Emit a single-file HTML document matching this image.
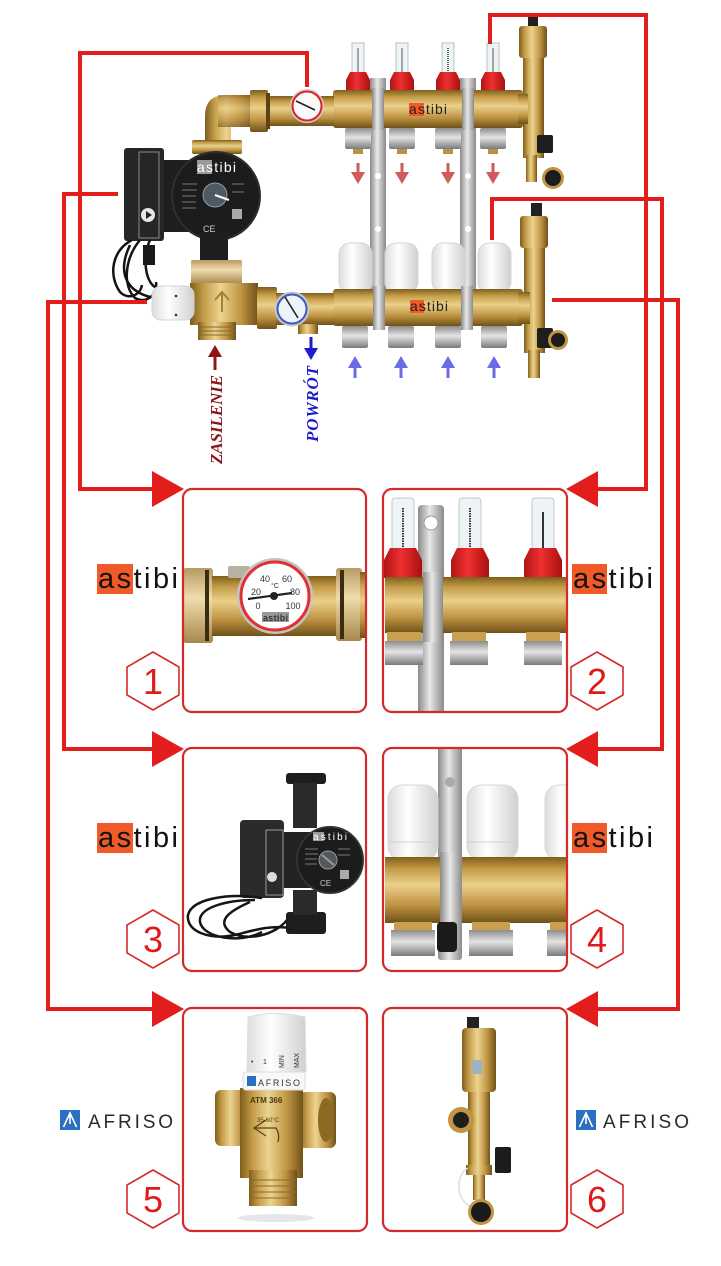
<!DOCTYPE html>
<html><head><meta charset="utf-8">
<style>
html,body{margin:0;padding:0;background:#fff;}
svg{display:block;}
</style></head><body>
<svg width="721" height="1266" viewBox="0 0 721 1266" xmlns="http://www.w3.org/2000/svg" font-family="'Liberation Sans', sans-serif">
<defs>
<linearGradient id="bV" x1="0" y1="0" x2="0" y2="1">
 <stop offset="0" stop-color="#7e5e1c"/><stop offset="0.18" stop-color="#c49c48"/>
 <stop offset="0.42" stop-color="#ead08a"/><stop offset="0.72" stop-color="#c09443"/>
 <stop offset="1" stop-color="#6f5118"/></linearGradient>
<linearGradient id="bH" x1="0" y1="0" x2="1" y2="0">
 <stop offset="0" stop-color="#7e5e1c"/><stop offset="0.2" stop-color="#c49c48"/>
 <stop offset="0.45" stop-color="#ecd490"/><stop offset="0.75" stop-color="#c09443"/>
 <stop offset="1" stop-color="#6f5118"/></linearGradient>
<linearGradient id="lb" x1="0" y1="0" x2="0" y2="1">
 <stop offset="0" stop-color="#b89a62"/><stop offset="0.4" stop-color="#f0dcae"/>
 <stop offset="1" stop-color="#a8874c"/></linearGradient>
<linearGradient id="sV" x1="0" y1="0" x2="0" y2="1">
 <stop offset="0" stop-color="#8c8c8c"/><stop offset="0.45" stop-color="#e4e4e4"/>
 <stop offset="1" stop-color="#7a7a7a"/></linearGradient>
<linearGradient id="sH" x1="0" y1="0" x2="1" y2="0">
 <stop offset="0" stop-color="#8a8a8a"/><stop offset="0.45" stop-color="#e8e8e8"/>
 <stop offset="1" stop-color="#8a8a8a"/></linearGradient>
<linearGradient id="wc" x1="0" y1="0" x2="1" y2="0">
 <stop offset="0" stop-color="#dcdcdc"/><stop offset="0.4" stop-color="#ffffff"/>
 <stop offset="1" stop-color="#d0d0d0"/></linearGradient>
<linearGradient id="rc" x1="0" y1="0" x2="1" y2="0">
 <stop offset="0" stop-color="#b01515"/><stop offset="0.45" stop-color="#f03030"/>
 <stop offset="1" stop-color="#a81010"/></linearGradient>
<clipPath id="c1"><rect x="183" y="489" width="183" height="223" rx="9"/></clipPath>
<clipPath id="c2"><rect x="383" y="489" width="184" height="223" rx="9"/></clipPath>
<clipPath id="c4"><rect x="383" y="748" width="184" height="223" rx="9"/></clipPath>
</defs>
<rect width="721" height="1266" fill="#fff"/>

<!-- ================= TOP ASSEMBLY ================= -->
<!-- brackets -->
<rect x="370" y="78" width="16" height="225" fill="url(#sH)"/>
<rect x="460" y="78" width="16" height="225" fill="url(#sH)"/>
<circle cx="378" cy="176" r="3" fill="#fff"/><circle cx="378" cy="229" r="3" fill="#fff"/>
<circle cx="468" cy="176" r="3" fill="#fff"/><circle cx="468" cy="229" r="3" fill="#fff"/>

<!-- flowmeters -->
<g>
 <rect x="352" y="43" width="12" height="30" fill="#eef3f6" stroke="#b8c0c6"/>
 <rect x="396" y="43" width="12" height="30" fill="#eef3f6" stroke="#b8c0c6"/>
 <rect x="442" y="43" width="12" height="30" fill="#eef3f6" stroke="#b8c0c6"/>
 <rect x="487" y="43" width="12" height="30" fill="#eef3f6" stroke="#b8c0c6"/>
 <line x1="358" y1="48" x2="358" y2="72" stroke="#555" stroke-width="1"/>
 <line x1="402" y1="48" x2="402" y2="72" stroke="#555" stroke-width="1"/>
 <line x1="448" y1="48" x2="448" y2="72" stroke="#333" stroke-width="1.5" stroke-dasharray="1 1"/>
 <line x1="493" y1="48" x2="493" y2="72" stroke="#555" stroke-width="1"/>
 <path d="M346,92 L346,80 L350,72 L366,72 L370,80 L370,92 Z" fill="url(#rc)"/>
 <path d="M390,92 L390,80 L394,72 L410,72 L414,80 L414,92 Z" fill="url(#rc)"/>
 <path d="M436,92 L436,80 L440,72 L456,72 L460,80 L460,92 Z" fill="url(#rc)"/>
 <path d="M481,92 L481,80 L485,72 L501,72 L505,80 L505,92 Z" fill="url(#rc)"/>
</g>

<!-- white actuator caps -->
<rect x="339" y="243" width="33" height="50" rx="11" fill="url(#wc)" stroke="#d6d6d6"/>
<rect x="385" y="243" width="33" height="50" rx="11" fill="url(#wc)" stroke="#d6d6d6"/>
<rect x="432" y="243" width="33" height="50" rx="11" fill="url(#wc)" stroke="#d6d6d6"/>
<rect x="478" y="243" width="33" height="50" rx="11" fill="url(#wc)" stroke="#d6d6d6"/>

<!-- top manifold bar -->
<rect x="333" y="90" width="190" height="38" rx="3" fill="url(#bV)"/>
<rect x="372" y="88" width="12" height="42" fill="url(#sH)"/>
<rect x="462" y="88" width="12" height="42" fill="url(#sH)"/>
<rect x="409" y="103" width="15" height="13" fill="#f05a28"/>
<text x="409" y="114" font-size="14" textLength="38" fill="#222">astibi</text>
<!-- top nuts -->
<g fill="url(#sV)">
 <rect x="345" y="128" width="26" height="21" rx="2"/><rect x="389" y="128" width="26" height="21" rx="2"/>
 <rect x="435" y="128" width="26" height="21" rx="2"/><rect x="480" y="128" width="26" height="21" rx="2"/>
</g>
<g fill="#b99140">
 <rect x="353" y="149" width="10" height="5"/><rect x="397" y="149" width="10" height="5"/>
 <rect x="443" y="149" width="10" height="5"/><rect x="488" y="149" width="10" height="5"/>
</g>
<!-- red down arrows -->
<g fill="#cf5b5b">
 <rect x="356.5" y="163" width="3" height="10"/><path d="M351,172 L365,172 L358,184 Z"/>
 <rect x="400.5" y="163" width="3" height="10"/><path d="M395,172 L409,172 L402,184 Z"/>
 <rect x="446.5" y="163" width="3" height="10"/><path d="M441,172 L455,172 L448,184 Z"/>
 <rect x="491.5" y="163" width="3" height="10"/><path d="M486,172 L500,172 L493,184 Z"/>
</g>

<!-- bottom manifold bar -->
<rect x="333" y="289" width="190" height="37" rx="3" fill="url(#bV)"/>
<rect x="373" y="286" width="12" height="44" fill="url(#sH)"/>
<rect x="461" y="286" width="12" height="44" fill="url(#sH)"/>
<rect x="410" y="300" width="14" height="13" fill="#f05a28"/>
<text x="410" y="311" font-size="14" textLength="38" fill="#222">astibi</text>
<g fill="url(#sV)">
 <rect x="342" y="326" width="26" height="22" rx="2"/><rect x="388" y="326" width="26" height="22" rx="2"/>
 <rect x="435" y="326" width="26" height="22" rx="2"/><rect x="481" y="326" width="26" height="22" rx="2"/>
</g>
<!-- blue up arrows -->
<g fill="#6b6be6">
 <rect x="353.5" y="366" width="3" height="12"/><path d="M348,368 L362,368 L355,356 Z"/>
 <rect x="399.5" y="366" width="3" height="12"/><path d="M394,368 L408,368 L401,356 Z"/>
 <rect x="446.5" y="366" width="3" height="12"/><path d="M441,368 L455,368 L448,356 Z"/>
 <rect x="492.5" y="366" width="3" height="12"/><path d="M487,368 L501,368 L494,356 Z"/>
</g>

<!-- right vent top -->
<rect x="528" y="13" width="10" height="14" fill="#222"/>
<rect x="519" y="26" width="28" height="32" rx="3" fill="url(#bH)"/>
<rect x="523" y="58" width="21" height="100" fill="url(#bH)"/>
<rect x="518" y="94" width="10" height="30" fill="url(#bV)"/>
<rect x="537" y="135" width="16" height="18" rx="2" fill="#1e1e1e"/>
<rect x="526" y="155" width="11" height="27" fill="url(#bH)"/>
<circle cx="553" cy="178" r="11" fill="#c09443"/><circle cx="553" cy="178" r="8" fill="#1c1c1c"/>
<!-- right vent bottom -->
<rect x="531" y="203" width="11" height="14" fill="#222"/>
<rect x="520" y="216" width="28" height="32" rx="3" fill="url(#bH)"/>
<rect x="524" y="248" width="21" height="105" fill="url(#bH)"/>
<rect x="518" y="292" width="12" height="32" fill="url(#bV)"/>
<rect x="537" y="328" width="16" height="20" rx="2" fill="#1e1e1e"/>
<circle cx="558" cy="340" r="10" fill="#c09443"/><circle cx="558" cy="340" r="7" fill="#1c1c1c"/>
<rect x="528" y="350" width="12" height="28" fill="url(#bH)"/>

<!-- elbow, union, thermometer top -->
<path d="M205,142 L205,116 Q205,95 226,95 L252,95 L252,127 L231,127 L231,142 Z" fill="url(#bH)"/>
<rect x="218" y="95" width="34" height="32" fill="url(#bV)" opacity="0.6"/>
<rect x="192" y="140" width="50" height="14" rx="2" fill="url(#bV)"/>
<rect x="250" y="90" width="18" height="42" rx="2" fill="url(#bV)"/>
<rect x="266" y="93" width="4" height="36" fill="#5a4416"/>
<rect x="270" y="96" width="64" height="30" fill="url(#bV)"/>
<circle cx="307" cy="106" r="17" fill="#cfcfcf"/>
<circle cx="307" cy="106" r="14.5" fill="#fafafa" stroke="#d22" stroke-width="2"/>
<line x1="296" y1="101" x2="315" y2="110" stroke="#222" stroke-width="1.6"/>

<!-- pump -->
<rect x="160" y="160" width="50" height="72" fill="#1e1e1e"/>
<circle cx="216" cy="196" r="44" fill="#1c1c1c" stroke="#2e2e2e" stroke-width="2"/>
<rect x="124" y="148" width="40" height="93" rx="3" fill="#262626"/>
<rect x="139" y="152" width="20" height="86" fill="none" stroke="#8a8a8a" stroke-width="1"/>
<circle cx="148" cy="215" r="7" fill="#e6e6e6"/><path d="M146,211 L152,215 L146,219 Z" fill="#222"/>
<rect x="197" y="160" width="15" height="14" fill="#9a9a9a"/>
<text x="197" y="172" font-size="14" textLength="39" fill="#fff">astibi</text>
<g stroke="#777" stroke-width="1"><line x1="182" y1="184" x2="197" y2="184"/><line x1="182" y1="190" x2="197" y2="190"/><line x1="182" y1="196" x2="196" y2="196"/><line x1="182" y1="202" x2="196" y2="202"/><line x1="182" y1="208" x2="196" y2="208"/><line x1="232" y1="184" x2="244" y2="184"/><line x1="232" y1="192" x2="244" y2="192"/></g>
<circle cx="215" cy="195" r="12" fill="#4d5a64" stroke="#999" stroke-width="1"/>
<line x1="215" y1="195" x2="229" y2="200" stroke="#fff" stroke-width="2"/>
<rect x="232" y="209" width="10" height="10" fill="#aaa"/>
<text x="203" y="232" font-size="9" fill="#ccc">CE</text>
<rect x="200" y="232" width="28" height="30" fill="#1e1e1e"/>
<g fill="none" stroke="#141414" stroke-width="2.5">
 <path d="M132,240 C112,250 108,275 120,292 C128,300 140,296 142,285"/>
 <path d="M140,240 C125,258 122,285 135,298 C145,304 158,296 156,282"/>
 <path d="M150,240 C140,262 148,290 160,288"/>
 <path d="M130,245 C118,270 124,290 150,297"/>
</g>
<rect x="143" y="245" width="12" height="20" fill="#1a1a1a"/>

<!-- mixing valve -->
<rect x="191" y="260" width="51" height="24" rx="2" fill="url(#lb)"/>
<path d="M190,283 L258,283 L258,325 L236,325 L236,338 L198,338 L198,325 L190,325 Z" fill="url(#bH)"/>
<rect x="198" y="322" width="38" height="18" fill="url(#bH)"/>
<g stroke="#8a6a28" stroke-width="1"><line x1="198" y1="327" x2="236" y2="327"/><line x1="198" y1="331" x2="236" y2="331"/><line x1="198" y1="335" x2="236" y2="335"/></g>
<rect x="152" y="286" width="42" height="34" rx="9" fill="url(#wc)" stroke="#d4d4d4"/>
<circle cx="176" cy="296" r="1.3" fill="#333"/><circle cx="176" cy="315" r="1.3" fill="#333"/>
<path d="M215,300 L222,292 L229,300 M222,292 L222,312" fill="none" stroke="#a2822f" stroke-width="2"/>
<!-- connection to bottom manifold -->
<rect x="257" y="287" width="20" height="42" rx="2" fill="url(#bV)"/>
<rect x="276" y="293" width="58" height="32" fill="url(#bV)"/>
<rect x="298" y="324" width="20" height="10" fill="url(#bH)"/>
<circle cx="292" cy="309" r="17.5" fill="#c9c9c9"/>
<circle cx="292" cy="309" r="14.5" fill="#eef2fa" stroke="#3b5bc0" stroke-width="2"/>
<line x1="285" y1="297" x2="298" y2="318" stroke="#222" stroke-width="1.6"/>

<!-- ZASILENIE / POWRÓT -->
<g fill="#8c1515"><rect x="213.5" y="355" width="3" height="15"/><path d="M208,357 L222,357 L215,345 Z"/></g>
<text transform="translate(222,464) rotate(-90)" font-family="'Liberation Serif', serif" font-weight="bold" font-style="italic" font-size="17" textLength="89" fill="#8c1515">ZASILENIE</text>
<g fill="#1c1ccc"><rect x="309.5" y="337" width="3" height="14"/><path d="M304,348 L318,348 L311,360 Z"/></g>
<text transform="translate(318,442) rotate(-90)" font-family="'Liberation Serif', serif" font-weight="bold" font-style="italic" font-size="17" textLength="76" fill="#1c1ccc">POWRÓT</text>

<!-- ================= RED CONNECTORS ================= -->
<g fill="none" stroke="#e31c1c" stroke-width="4" stroke-linejoin="miter">
 <path d="M307,87 L307,53 L80,53 L80,489 L156,489"/>
 <path d="M118,194 L64,194 L64,749 L156,749"/>
 <path d="M147,302 L48,302 L48,1009 L156,1009"/>
 <path d="M490,44 L490,15 L646,15 L646,489 L594,489"/>
 <path d="M492,240 L492,199 L662,199 L662,749 L594,749"/>
 <path d="M552,300 L678,300 L678,1009 L594,1009"/>
</g>
<g fill="#e31c1c">
 <path d="M152,471 L184,489 L152,507 Z"/>
 <path d="M152,731 L184,749 L152,767 Z"/>
 <path d="M152,991 L184,1009 L152,1027 Z"/>
 <path d="M598,471 L566,489 L598,507 Z"/>
 <path d="M598,731 L566,749 L598,767 Z"/>
 <path d="M598,991 L566,1009 L598,1027 Z"/>
</g>

<!-- ================= BOX 1 ================= -->
<g clip-path="url(#c1)">
 <rect x="183" y="568" width="30" height="75" rx="3" fill="url(#lb)"/>
 <rect x="205" y="570" width="4" height="71" fill="#3a2c10"/>
 <rect x="212" y="576" width="126" height="60" fill="url(#bV)"/>
 <rect x="228" y="566" width="22" height="12" rx="2" fill="#b8b0a0"/>
 <rect x="336" y="568" width="26" height="73" rx="3" fill="url(#lb)"/>
 <rect x="340" y="570" width="4" height="69" fill="#3a2c10"/>
 <rect x="360" y="572" width="8" height="66" fill="url(#bV)"/>
</g>
<circle cx="275" cy="596" r="38" fill="#c4c4c4"/>
<circle cx="275" cy="596" r="34" fill="#fff" stroke="#e03030" stroke-width="3"/>
<g font-size="9" fill="#333" text-anchor="middle">
 <text x="265" y="582">40</text><text x="287" y="582">60</text>
 <text x="256" y="595">20</text><text x="295" y="595">80</text>
 <text x="258" y="609">0</text><text x="293" y="609">100</text>
 <text x="275" y="588" font-size="7">°C</text>
</g>
<line x1="248" y1="599" x2="292" y2="593" stroke="#222" stroke-width="2.2"/>
<circle cx="274" cy="596" r="4" fill="#222"/>
<rect x="262" y="612" width="27" height="10" fill="#999"/>
<text x="263" y="621" font-size="9" font-weight="bold" textLength="25" fill="#333">astibi</text>
<rect x="183" y="489" width="183" height="223" rx="9" fill="none" stroke="#d42a2a" stroke-width="2.2"/>

<!-- ================= BOX 2 ================= -->
<g clip-path="url(#c2)">
 <rect x="418" y="505" width="26" height="210" rx="4" fill="url(#sH)"/>
 <circle cx="431" cy="523" r="7" fill="#fff" stroke="#999"/>
 <rect x="392" y="498" width="22" height="52" rx="3" fill="#eef3f6" stroke="#c0c8cc"/>
 <rect x="459" y="498" width="22" height="52" rx="3" fill="#eef3f6" stroke="#c0c8cc"/>
 <rect x="532" y="498" width="22" height="52" rx="3" fill="#eef3f6" stroke="#c0c8cc"/>
 <line x1="403" y1="508" x2="403" y2="548" stroke="#333" stroke-width="2" stroke-dasharray="1.5 1"/>
 <line x1="470" y1="508" x2="470" y2="548" stroke="#333" stroke-width="2" stroke-dasharray="1.5 1"/>
 <line x1="543" y1="512" x2="543" y2="548" stroke="#333" stroke-width="2"/>
 <path d="M384,578 L384,560 L390,548 L416,548 L422,560 L422,578 Z" fill="url(#rc)"/>
 <path d="M451,578 L451,560 L457,548 L483,548 L489,560 L489,578 Z" fill="url(#rc)"/>
 <path d="M524,578 L524,560 L530,548 L556,548 L562,560 L562,578 Z" fill="url(#rc)"/>
 <rect x="385" y="577" width="183" height="56" fill="url(#bV)"/>
 <rect x="423" y="572" width="20" height="70" fill="url(#sH)"/>
 <rect x="387" y="632" width="34" height="10" fill="#c8a050"/>
 <rect x="385" y="641" width="38" height="24" fill="url(#sV)"/>
 <rect x="452" y="632" width="34" height="10" fill="#c8a050"/>
 <rect x="450" y="641" width="38" height="24" fill="url(#sV)"/>
 <rect x="526" y="632" width="34" height="10" fill="#c8a050"/>
 <rect x="524" y="641" width="38" height="24" fill="url(#sV)"/>
</g>
<rect x="383" y="489" width="184" height="223" rx="9" fill="none" stroke="#d42a2a" stroke-width="2.2"/>

<!-- ================= BOX 3 (pump) ================= -->
<rect x="286" y="773" width="40" height="11" rx="3" fill="#1e1e1e"/>
<rect x="293" y="783" width="24" height="45" fill="#2a2a2a"/>
<rect x="286" y="912" width="40" height="22" rx="3" fill="#1e1e1e"/>
<rect x="293" y="890" width="24" height="25" fill="#2a2a2a"/>
<rect x="270" y="832" width="40" height="56" fill="#222"/>
<circle cx="330" cy="860" r="33" fill="#1c1c1c" stroke="#333" stroke-width="2"/>
<rect x="240" y="820" width="44" height="78" rx="4" fill="#2b2b2b"/>
<rect x="266" y="830" width="17" height="65" fill="none" stroke="#999" stroke-width="1"/>
<circle cx="272" cy="877" r="5" fill="#ddd"/>
<rect x="313" y="832" width="11" height="9" fill="#999"/>
<text x="313" y="840" font-size="10" textLength="34" fill="#fff">astibi</text>
<circle cx="328" cy="860" r="9" fill="#50585e" stroke="#999"/>
<line x1="322" y1="855" x2="334" y2="865" stroke="#999" stroke-width="2"/>
<g stroke="#777" stroke-width="1"><line x1="305" y1="849" x2="318" y2="849"/><line x1="305" y1="854" x2="318" y2="854"/><line x1="305" y1="859" x2="317" y2="859"/><line x1="305" y1="864" x2="317" y2="864"/><line x1="338" y1="849" x2="350" y2="849"/><line x1="338" y1="855" x2="350" y2="855"/></g>
<rect x="340" y="870" width="9" height="9" fill="#aaa"/>
<text x="320" y="886" font-size="8" fill="#ccc">CE</text>
<g fill="none" stroke="#151515" stroke-width="2.5">
 <path d="M262,898 C230,893 192,898 188,915 C186,932 210,940 235,935 C255,930 270,925 290,928"/>
 <path d="M255,900 C225,900 198,908 200,922 C203,938 240,944 262,932"/>
 <path d="M250,902 C232,910 215,920 230,932 C248,942 275,935 287,920"/>
</g>
<rect x="183" y="748" width="183" height="223" rx="9" fill="none" stroke="#d42a2a" stroke-width="2.2"/>

<!-- ================= BOX 4 ================= -->
<g clip-path="url(#c4)">
 <rect x="438" y="745" width="24" height="215" rx="3" fill="url(#sH)"/>
 <circle cx="450" cy="782" r="5" fill="#aaa"/>
 <rect x="388" y="785" width="50" height="75" rx="14" fill="url(#wc)" stroke="#d8d8d8"/>
 <rect x="467" y="785" width="51" height="75" rx="14" fill="url(#wc)" stroke="#d8d8d8"/>
 <rect x="545" y="785" width="40" height="75" rx="14" fill="url(#wc)" stroke="#d8d8d8"/>
 <line x1="388" y1="842" x2="438" y2="842" stroke="#cfcfcf"/>
 <line x1="467" y1="842" x2="518" y2="842" stroke="#cfcfcf"/>
 <rect x="385" y="857" width="183" height="66" fill="url(#bV)"/>
 <rect x="440" y="852" width="22" height="75" fill="url(#sH)"/>
 <rect x="394" y="922" width="38" height="9" fill="#c8a050"/>
 <rect x="391" y="930" width="44" height="26" fill="url(#sV)"/>
 <rect x="472" y="922" width="38" height="9" fill="#c8a050"/>
 <rect x="469" y="930" width="44" height="26" fill="url(#sV)"/>
 <rect x="550" y="922" width="38" height="9" fill="#c8a050"/>
 <rect x="547" y="930" width="44" height="26" fill="url(#sV)"/>
 <rect x="437" y="922" width="20" height="30" rx="4" fill="#1a1a1a"/>
</g>
<rect x="383" y="748" width="184" height="223" rx="9" fill="none" stroke="#d42a2a" stroke-width="2.2"/>

<!-- ================= BOX 5 (mixing valve) ================= -->
<ellipse cx="276" cy="1218" rx="38" ry="4" fill="#e6e6ea"/>
<rect x="215" y="1090" width="34" height="56" rx="6" fill="url(#bH)"/>
<rect x="299" y="1092" width="37" height="56" rx="6" fill="url(#bH)"/>
<ellipse cx="326" cy="1120" rx="8" ry="22" fill="#8c6a22"/>
<rect x="240" y="1088" width="63" height="90" fill="url(#bH)"/>
<rect x="249" y="1170" width="48" height="36" fill="url(#bH)"/>
<g stroke="#8a6a28" stroke-width="1"><line x1="249" y1="1180" x2="297" y2="1180"/><line x1="249" y1="1186" x2="297" y2="1186"/><line x1="249" y1="1192" x2="297" y2="1192"/><line x1="249" y1="1198" x2="297" y2="1198"/></g>
<path d="M248,1017 Q275,1010 305,1017 L306,1072 L247,1072 Z" fill="url(#wc)" stroke="#ddd"/>
<rect x="243" y="1072" width="62" height="18" rx="3" fill="#f8f8f8" stroke="#ddd"/>
<rect x="247" y="1076" width="9" height="10" fill="#2a6fc0"/>
<text x="258" y="1086" font-size="9" fill="#333" textLength="42">AFRISO</text>
<g font-size="7" fill="#333"><text x="251" y="1064">•</text><text x="263" y="1064">1</text>
<text transform="translate(284,1068) rotate(-90)" font-size="7">MIN</text>
<text transform="translate(299,1068) rotate(-90)" font-size="7">MAX</text></g>
<text x="250" y="1103" font-size="8" font-weight="bold" fill="#4a3a10">ATM 366</text>
<text x="257" y="1122" font-size="6" fill="#4a3a10">35-60°C</text>
<path d="M266,1136 L254,1128 L266,1120 M254,1128 L276,1128 Q280,1134 278,1142" fill="none" stroke="#5a4416" stroke-width="1.3"/>
<rect x="183" y="1008" width="184" height="223" rx="9" fill="none" stroke="#d42a2a" stroke-width="2.2"/>

<!-- ================= BOX 6 (vent) ================= -->
<rect x="467" y="1017" width="12" height="12" fill="#222"/>
<rect x="462" y="1028" width="34" height="64" rx="4" fill="url(#bH)"/>
<rect x="472" y="1060" width="10" height="14" fill="#9fb0c0"/>
<rect x="468" y="1092" width="22" height="80" fill="url(#bH)"/>
<circle cx="461" cy="1120" r="13" fill="#c09443"/><circle cx="461" cy="1120" r="8" fill="#1e1e1e"/>
<rect x="495" y="1147" width="16" height="26" rx="2" fill="#1c1c1c"/>
<rect x="466" y="1165" width="26" height="10" fill="url(#bH)"/>
<rect x="473" y="1175" width="12" height="25" fill="url(#bH)"/>
<path d="M468,1168 C455,1175 456,1200 470,1206" fill="none" stroke="#ddd" stroke-width="1.5"/>
<circle cx="481" cy="1212" r="13" fill="#c09443"/><circle cx="481" cy="1212" r="10" fill="#1a1a1a"/>
<rect x="383" y="1008" width="184" height="223" rx="9" fill="none" stroke="#d42a2a" stroke-width="2.2"/>

<!-- ================= BRAND LABELS ================= -->
<g font-size="29" fill="#111">
 <rect x="97" y="564" width="36" height="30" fill="#f05a28"/>
 <text x="98" y="588" textLength="80">astibi</text>
 <rect x="572" y="564" width="35" height="30" fill="#f05a28"/>
 <text x="573" y="588" textLength="80">astibi</text>
 <rect x="97" y="823" width="36" height="30" fill="#f05a28"/>
 <text x="98" y="847" textLength="80">astibi</text>
 <rect x="572" y="823" width="35" height="30" fill="#f05a28"/>
 <text x="573" y="847" textLength="80">astibi</text>
</g>
<g>
 <rect x="60" y="1110" width="20" height="20" fill="#2a6fc0"/>
 <path d="M63.5,1127 L70,1113 L76.5,1127 M70,1113 L70,1124" fill="none" stroke="#fff" stroke-width="1.6"/>
 <text x="88" y="1128" font-size="19" fill="#2a2a2a" textLength="85">AFRISO</text>
 <rect x="576" y="1110" width="20" height="20" fill="#2a6fc0"/>
 <path d="M579.5,1127 L586,1113 L592.5,1127 M586,1113 L586,1124" fill="none" stroke="#fff" stroke-width="1.6"/>
 <text x="603" y="1128" font-size="19" fill="#2a2a2a" textLength="86">AFRISO</text>
</g>

<!-- ================= HEXAGONS ================= -->
<g fill="#fff" stroke="#d42a2a" stroke-width="1.6" stroke-linejoin="round">
 <path d="M153,652 L179,667 L179,695 L153,710 L127,695 L127,667 Z"/>
 <path d="M597,652 L623,667 L623,695 L597,710 L571,695 L571,667 Z"/>
 <path d="M153,910 L179,925 L179,953 L153,968 L127,953 L127,925 Z"/>
 <path d="M597,910 L623,925 L623,953 L597,968 L571,953 L571,925 Z"/>
 <path d="M153,1170 L179,1185 L179,1213 L153,1228 L127,1213 L127,1185 Z"/>
 <path d="M597,1170 L623,1185 L623,1213 L597,1228 L571,1213 L571,1185 Z"/>
</g>
<g font-size="36" fill="#e01a1a" text-anchor="middle">
 <text x="153" y="694">1</text><text x="597" y="694">2</text>
 <text x="153" y="952">3</text><text x="597" y="952">4</text>
 <text x="153" y="1212">5</text><text x="597" y="1212">6</text>
</g>
</svg>
</body></html>
